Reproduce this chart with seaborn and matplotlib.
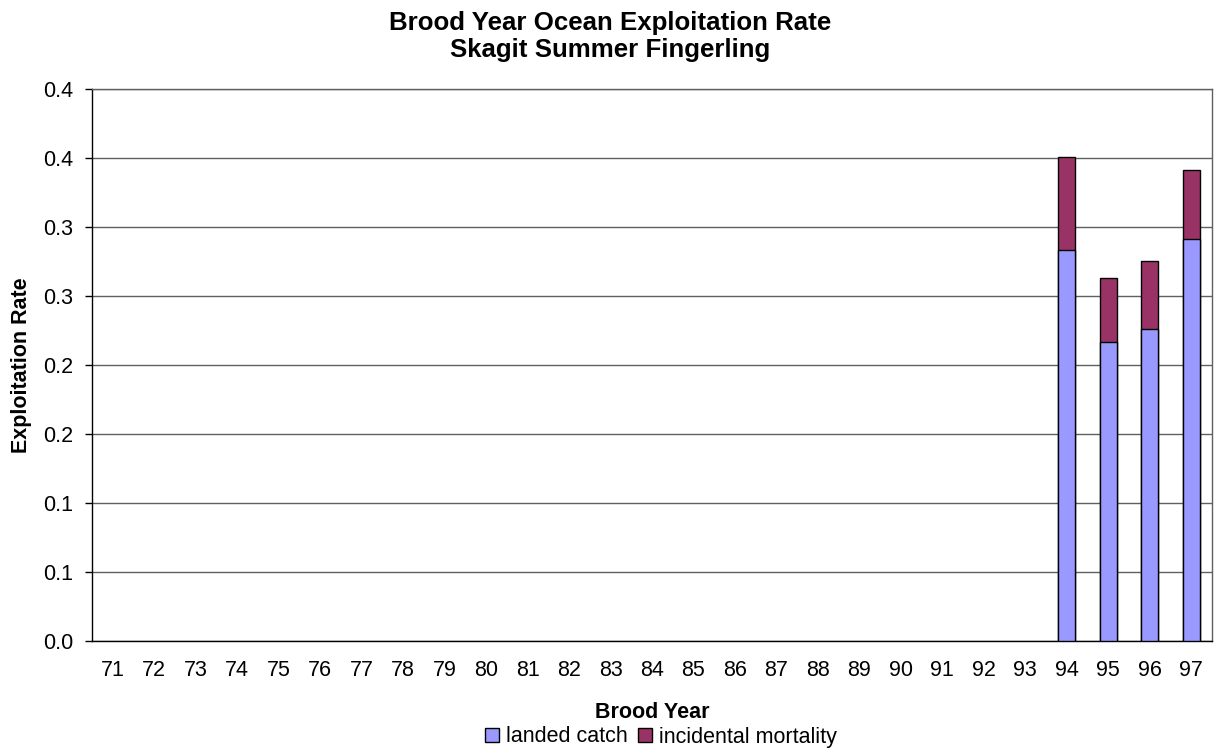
import matplotlib
matplotlib.use("Agg")
import matplotlib.pyplot as plt
import seaborn as sns
import pandas as pd
import numpy as np
from matplotlib.patches import Patch

years = [str(y) for y in range(71, 98)]
data_years = ["94", "95", "96", "97"]
landed_catch = [0.283, 0.217, 0.226, 0.291]
incidental_mortality = [0.068, 0.046, 0.049, 0.050]
y_ticks = [0.0, 0.05, 0.10, 0.15, 0.20, 0.25, 0.30, 0.35, 0.40]
y_tick_labels = ["0.0", "0.1", "0.1", "0.2", "0.2", "0.3", "0.3", "0.4", "0.4"]

LANDED = "#9999FF"
INCID = "#993366"

df = pd.DataFrame({
    "year": data_years,
    "landed": landed_catch,
    "incidental": incidental_mortality,
})
df["total"] = df["landed"] + df["incidental"]

sns.set_theme(style="white")
plt.rcParams["font.family"] = ["Liberation Sans", "DejaVu Sans"]
for k in ["text.color", "axes.labelcolor", "xtick.color", "ytick.color"]:
    plt.rcParams[k] = "black"

FS = 15.5
W, H = 1215, 750

fig = plt.figure(figsize=(W / 100, H / 100), dpi=100)
ax = fig.add_axes([92 / W, 1 - 641 / H, (1212 - 92) / W, (641 - 89) / H])

sns.barplot(data=df, x="year", y="total", order=years, color=INCID,
            edgecolor="black", linewidth=1, width=0.41, saturation=1, ax=ax, zorder=3)
sns.barplot(data=df, x="year", y="landed", order=years, color=LANDED,
            edgecolor="black", linewidth=1, width=0.41, saturation=1, ax=ax, zorder=4)

ax.set_xlim(-0.5, len(years) - 0.5)
ax.set_ylim(0, 0.40)
ax.set_yticks(y_ticks)
ax.set_yticklabels(y_tick_labels, fontsize=FS)
ax.yaxis.grid(True, color="#606060", linewidth=1)
ax.set_axisbelow(True)

ax.set_xticks(range(len(years)))
ax.set_xticklabels(years, fontsize=FS)
ax.set_xticks(np.arange(-0.5, len(years), 1.0), minor=True)
ax.tick_params(axis="x", which="major", length=0, pad=14)
ax.tick_params(axis="x", which="minor", length=5, width=1, color="black", direction="out")
ax.tick_params(axis="y", length=5, width=1, color="black", direction="out", left=True, pad=8.5)

for s in ["left", "bottom"]:
    ax.spines[s].set_color("black")
    ax.spines[s].set_linewidth(1)
for s in ["top", "right"]:
    ax.spines[s].set_color("#606060")
    ax.spines[s].set_linewidth(1)

ax.set_xlabel("Brood Year", fontsize=FS, fontweight="bold")
ax.xaxis.label.set_verticalalignment("baseline")
ax.xaxis.set_label_coords(0.5, (641 - 718) / (641 - 89))

ax.set_ylabel("Exploitation Rate", fontsize=FS, fontweight="bold")
ax.yaxis.label.set_verticalalignment("center")
ax.yaxis.set_label_coords((21.5 - 92) / (1212 - 92), 0.5)

fig.text(0.502, 1 - 30 / H, "Brood Year Ocean Exploitation Rate",
         ha="center", va="baseline", fontsize=18.6, fontweight="bold")
fig.text(0.502, 1 - 56.5 / H, "Skagit Summer Fingerling",
         ha="center", va="baseline", fontsize=18.6, fontweight="bold")

handles = [Patch(facecolor=LANDED, edgecolor="black", label="landed catch"),
           Patch(facecolor=INCID, edgecolor="black", label="incidental mortality")]
fig.legend(handles=handles, loc="center", bbox_to_anchor=(661 / W, 1 - 737 / H), ncol=2,
           frameon=False, fontsize=FS, handlelength=0.65, handleheight=0.65,
           handletextpad=0.3, columnspacing=0.5, borderaxespad=0, borderpad=0)

fig.savefig("out.png", dpi=100)
